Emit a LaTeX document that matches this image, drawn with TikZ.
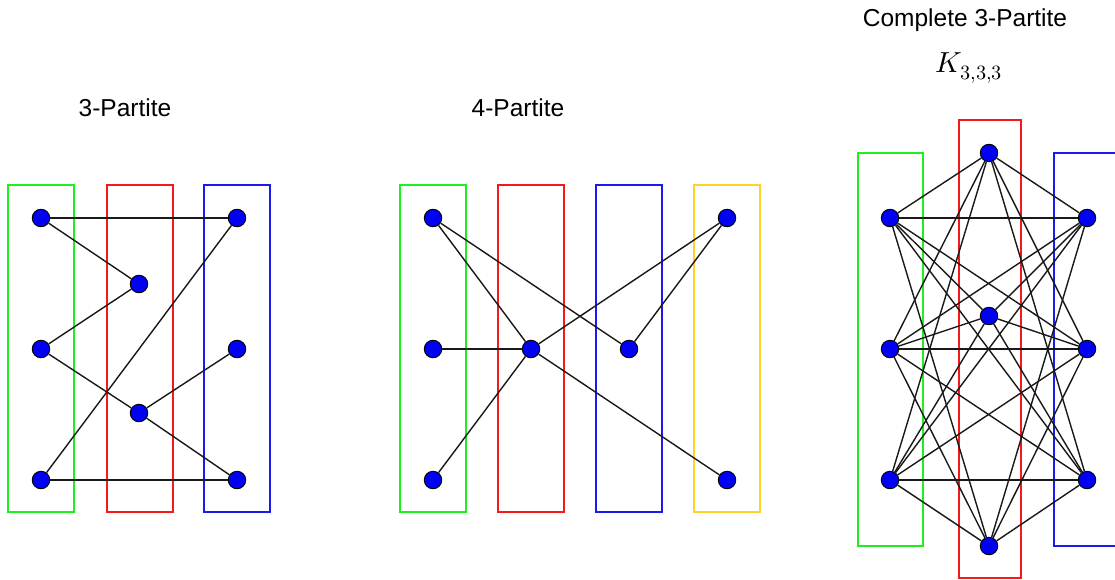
\documentclass[tikz,border=0pt]{standalone}
\usepackage{fontspec}
\setmainfont{Liberation Sans}
\usepackage{unicode-math}
\setmathfont{Latin Modern Math}
\definecolor{pgreen}{RGB}{30,240,30}
\definecolor{pred}{RGB}{245,25,25}
\definecolor{pblue}{RGB}{25,25,240}
\definecolor{pyellow}{RGB}{255,210,40}
\definecolor{vfill}{RGB}{0,0,245}
\tikzset{
  vtx/.style={circle, fill=vfill, draw=black, line width=0.9pt, minimum size=17.5pt, inner sep=0pt},
  part/.style={line width=2.2pt},
  edge/.style={line width=1.4pt, black!90},
  ttl/.style={font=\fontsize{24.5}{29}\selectfont, inner sep=0pt}
}
\begin{document}
\begin{tikzpicture}[x=1pt,y=-1pt]
\clip (0,0) rectangle (1115,580);
\fill[white] (0,0) rectangle (1115,580);

% ---------- 3-Partite ----------
\node[ttl] (t1) at (125,108) {3-Partite};
\draw[part, pgreen] (8,185) rectangle (74,512);
\draw[part, pred] (107,185) rectangle (173,512);
\draw[part, pblue] (204,185) rectangle (270,512);
\node[vtx] (a1) at (41,218) {};
\node[vtx] (a2) at (41,349) {};
\node[vtx] (a3) at (41,480) {};
\node[vtx] (b1) at (139,284) {};
\node[vtx] (b2) at (139,413) {};
\node[vtx] (c1) at (237,218) {};
\node[vtx] (c2) at (237,349) {};
\node[vtx] (c3) at (237,480) {};
\draw[edge] (a1) -- (c1);
\draw[edge] (a1) -- (b1);
\draw[edge] (a2) -- (b1);
\draw[edge] (a2) -- (b2);
\draw[edge] (b2) -- (c3);
\draw[edge] (b2) -- (c2);
\draw[edge] (a3) -- (c1);
\draw[edge] (a3) -- (c3);

% ---------- 4-Partite ----------
\node[ttl] (t2) at (518,108) {4-Partite};
\draw[part, pgreen] (400,185) rectangle (466,512);
\draw[part, pred] (498,185) rectangle (564,512);
\draw[part, pblue] (596,185) rectangle (662,512);
\draw[part, pyellow] (694,185) rectangle (760,512);
\node[vtx] (d1) at (433,218) {};
\node[vtx] (d2) at (433,349) {};
\node[vtx] (d3) at (433,480) {};
\node[vtx] (e1) at (531,349) {};
\node[vtx] (f1) at (629,349) {};
\node[vtx] (g1) at (727,218) {};
\node[vtx] (g2) at (727,480) {};
\draw[edge] (d1) -- (f1);
\draw[edge] (d1) -- (e1);
\draw[edge] (d2) -- (e1);
\draw[edge] (d3) -- (e1);
\draw[edge] (e1) -- (g1);
\draw[edge] (e1) -- (g2);
\draw[edge] (f1) -- (g1);

% ---------- Complete 3-Partite ----------
\node[ttl] (t3) at (965,20) {Complete 3-Partite};
\node[inner sep=0pt, font=\fontsize{29}{34}\selectfont] (k) at (969,68) {$K_{3,3,3}$};
\draw[part, pgreen] (858,153) rectangle (923,546);
\draw[part, pred] (959,120) rectangle (1021,578);
\draw[part, pblue] (1054,153) rectangle (1130,546);
\node[vtx] (l1) at (890,218) {};
\node[vtx] (l2) at (890,349) {};
\node[vtx] (l3) at (890,480) {};
\node[vtx] (m1) at (989,153) {};
\node[vtx] (m2) at (989,316) {};
\node[vtx] (m3) at (989,546) {};
\node[vtx] (r1) at (1087,218) {};
\node[vtx] (r2) at (1087,349) {};
\node[vtx] (r3) at (1087,480) {};
\foreach \i in {1,2,3}{
  \foreach \j in {1,2,3}{
    \draw[edge] (l\i) -- (m\j);
    \draw[edge] (l\i) -- (r\j);
    \draw[edge] (m\i) -- (r\j);
  }
}
\end{tikzpicture}
\end{document}
